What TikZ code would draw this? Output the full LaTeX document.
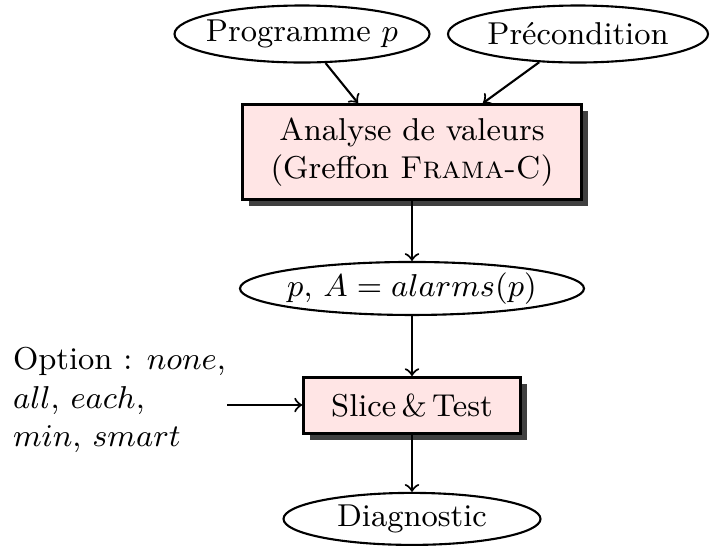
\documentclass[tikz,border=0pt]{standalone}
\usepackage{amsmath}
\usepackage{tikz}
\usetikzlibrary{positioning}
\usetikzlibrary{shapes.geometric}
\usetikzlibrary{shadows}
\tikzstyle{block} = [draw, thick, rectangle, fill=red!10, drop shadow={shadow xshift=0.065cm, shadow yshift=-0.065cm, fill=black!75, opacity=1}]
\tikzstyle{data} = [draw, semithick, ellipse, inner sep=0pt, minimum height=0.53cm]

\begin{document}
\begin{tikzpicture}[auto,>=to,semithick,font=\small]
    \useasboundingbox (0,0) rectangle (7.1,-5.45);
    \node [data, minimum width=2.55cm, minimum height=0.57cm, label=center:{Programme $p$}] (prog) at (3.02,-0.34) {};
    \node [data, minimum width=2.60cm, minimum height=0.57cm, label=center:{Précondition}] (precond) at (5.78,-0.34) {};
    \node [block, minimum width=3.39cm, minimum height=0.95cm, align=center] (analyse) at (4.12,-1.52) {Analyse de valeurs\\(Greffon \textsc{Frama-C})};
    \node [data, minimum width=3.44cm, below = 0.6cm of analyse, label=center:{$p,\, A = alarms(p)$}] (alarms) {};
    \node [block, minimum width=2.17cm, minimum height=0.56cm, below = 0.6cm of alarms] (slice) {Slice\,\&\,Test};
    \node [data, minimum width=2.57cm, minimum height=0.52cm, below = 0.57cm of slice, label=center:{Diagnostic}] (diag) {};
    \node [align=left, anchor=west, inner sep=0pt] (option) at (0.12,-4.0) {Option : $none$,\\$all$, $each$,\\$min$, $smart$};
    \coordinate (optin) at (2.27,-4.05);

    \draw [->] (prog) -- (analyse.north -| 3.58,0); % entrees
    \draw [->] (precond) -- (analyse.north -| 4.83,0);
    \draw [->] (analyse) -- (alarms);
    \draw [->] (alarms) -- (slice);
    \draw [->] (optin) -- (optin -| slice.west);
    \draw [->] (slice) -- (diag);
\end{tikzpicture}
\end{document}
